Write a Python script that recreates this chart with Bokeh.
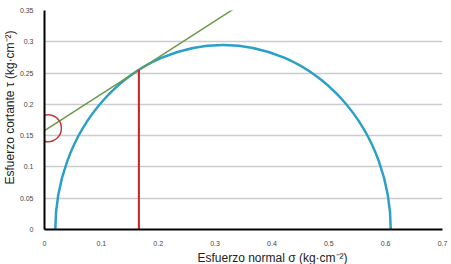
from bokeh.plotting import figure
from bokeh.models import FixedTicker, Title
from bokeh.embed import file_html
from bokeh.resources import INLINE

# Mohr circle parameters (kg/cm^2)
circle_center = [0.314]
circle_radius = [0.295]
# failure envelope (straight line)
envelope_x = [0.0, 0.332]
envelope_y = [0.158, 0.352]
# tangent point projection
tangent_x = [0.166]
tangent_y = [0.255]
# highlighted intercept (cohesion)
marker_x = [0.006]
marker_y = [0.162]

x_ticks = [0, 0.1, 0.2, 0.3, 0.4, 0.5, 0.6, 0.7]
x_tick_labels = ["0", "0.1", "0.2", "0.3", "0.4", "0.5", "0.6", "0.7"]
y_ticks = [0, 0.05, 0.1, 0.15, 0.2, 0.25, 0.3, 0.35]
y_tick_labels = ["0", "0.05", "0.1", "0.15", "0.2", "0.25", "0.3", "0.35"]

FONT = "Liberation Sans"

p = figure(width=451, height=264, x_range=(0, 0.7), y_range=(0, 0.35),
           output_backend="svg", toolbar_location=None,
           min_border_left=43, min_border_right=9, min_border_top=10, min_border_bottom=34)
p.outline_line_color = None
p.background_fill_color = "white"

p.xgrid.grid_line_color = None
p.ygrid.grid_line_color = "#cccccc"
p.ygrid.grid_line_width = 1.5

for ax in (p.xaxis, p.yaxis):
    ax.axis_line_color = "black"
    ax.axis_line_width = 2
    ax.major_tick_line_color = None
    ax.minor_tick_line_color = None
    ax.major_label_text_font = FONT
    ax.major_label_text_font_size = "7px"
    ax.major_label_text_color = "#444444"

p.xaxis.ticker = FixedTicker(ticks=x_ticks)
p.yaxis.ticker = FixedTicker(ticks=y_ticks)
p.xaxis.major_label_overrides = {t: l for t, l in zip(x_ticks, x_tick_labels)}
p.yaxis.major_label_overrides = {t: l for t, l in zip(y_ticks, y_tick_labels)}
p.xaxis.major_label_standoff = 5
p.yaxis.major_label_standoff = 5

p.ellipse(x=circle_center, y=[0], width=[2 * r for r in circle_radius],
          height=[2 * r for r in circle_radius],
          fill_color=None, line_color="#2a9fc8", line_width=2.5)
p.line(envelope_x, envelope_y, line_color="#6b9a48", line_width=1.5)
p.segment(x0=tangent_x, y0=[0], x1=tangent_x, y1=tangent_y,
          line_color="#cc1f1f", line_width=2)
p.scatter(marker_x, marker_y, size=27, marker="circle", fill_color=None,
          line_color="#c0393b", line_width=1.5)

p.add_layout(Title(text="Esfuerzo normal σ (kg·cm⁻²)", text_font=FONT,
                   text_font_size="12px", text_font_style="normal",
                   align="left", offset=153, standoff=0,
                   text_color="#222222"), "below")
p.add_layout(Title(text="Esfuerzo cortante τ (kg·cm⁻²)", text_font=FONT,
                   text_font_size="12px", text_font_style="normal",
                   align="left", offset=45, standoff=0,
                   text_color="#222222"), "left")

open("out.html", "w").write(file_html(p, INLINE))
